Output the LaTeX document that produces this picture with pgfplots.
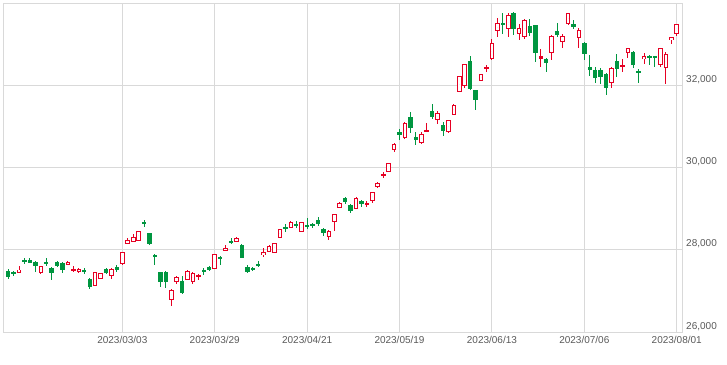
\documentclass[border=0pt]{standalone}
\usepackage{fontspec}
\setmainfont{Liberation Sans}
\usepackage{pgfplots}
\pgfplotsset{compat=1.18}
\usepackage{pgfplotstable}
\definecolor{cred}{RGB}{230,0,35}
\definecolor{cgreen}{RGB}{0,150,64}
\definecolor{gridc}{RGB}{217,217,217}
\definecolor{lblc}{RGB}{89,89,89}
% i = trading-day index (2023/03/03 = 0), o h l c
\pgfplotstableread{
i o h l c
-21 27480 27540 27290 27346
-20 27465 27480 27360 27402
-19 27450 27600 27430 27509
-18 27760 27800 27660 27693
-17 27760 27790 27670 27685
-16 27707 27720 27460 27606
-15 27460 27600 27420 27584
-14 27690 27790 27600 27670
-13 27560 27580 27260 27427
-12 27710 27730 27590 27602
-11 27690 27700 27440 27501
-10 27650 27720 27630 27696
-9 27500 27610 27470 27513
-8 27480 27550 27430 27531
-7 27490 27560 27400 27473
-6 27292 27310 27050 27104
-5 27140 27470 27120 27453
-4 27310 27440 27290 27423
-3 27530 27560 27400 27445
-2 27370 27560 27300 27516
-1 27570 27630 27450 27498
0 27665 27958 27640 27927
1 28160 28290 28140 28237
2 28195 28380 28180 28309
3 28236 28460 28220 28444
4 28660 28734 28560 28623
5 28400 28420 28120 28143
6 27885 27900 27630 27832
7 27463 27470 27100 27222
8 27450 27480 27060 27229
9 26798 27040 26632 27010
10 27227 27360 27180 27333
11 27244 27370 26930 26945
12 27285 27510 27260 27466
13 27227 27470 27180 27419
14 27360 27420 27270 27385
15 27500 27560 27390 27476
16 27585 27600 27480 27518
17 27553 27900 27540 27883
18 27837 27860 27640 27782
19 27993 28110 27980 28041
20 28210 28280 28130 28188
21 28212 28300 28190 28287
22 28122 28130 27800 27813
23 27585 27620 27430 27472
24 27569 27580 27480 27518
25 27650 27720 27585 27633
26 27880 28050 27830 27923
27 27968 28110 27950 28082
28 27944 28170 27930 28156
29 28300 28510 28280 28493
30 28540 28630 28440 28514
31 28553 28700 28520 28658
32 28620 28700 28520 28606
33 28446 28680 28430 28657
34 28590 28773 28500 28564
35 28634 28660 28520 28593
36 28715 28800 28580 28620
37 28505 28520 28330 28416
38 28324 28480 28240 28457
39 28700 28880 28470 28856
40 29042 29160 29020 29123
41 29262 29280 29110 29157
42 29091 29110 28900 28949
43 29017 29280 29000 29242
44 29195 29210 29040 29122
45 29110 29200 29050 29126
46 29195 29400 29140 29388
47 29536 29660 29500 29626
48 29820 29900 29760 29842
49 29902 30120 29890 30093
50 30432 30610 30380 30573
51 30854 30940 30680 30808
52 30724 31100 30690 31086
53 31244 31350 30850 30957
54 30740 30860 30555 30682
55 30610 30860 30580 30801
56 30890 31080 30860 30916
57 31390 31553 31180 31233
58 31178 31370 31065 31328
59 31049 31100 30764 30887
60 30878 31170 30840 31148
61 31285 31560 31270 31524
62 31854 32240 31830 32217
63 32000 32530 31930 32506
64 32592 32708 31890 31913
65 31878 31900 31410 31641
66 32122 32280 32100 32265
67 32410 32500 32330 32434
68 32658 33125 32610 33018
69 33334 33640 33180 33502
70 33520 33770 33260 33485
71 33383 33770 33180 33706
72 33772 33800 33220 33370
73 33260 33505 33100 33389
74 33195 33620 33140 33575
75 33451 33620 33195 33265
76 33463 33470 32575 32781
77 32660 32895 32450 32698
78 32634 32660 32330 32538
79 32797 33220 32610 33193
80 33317 33530 33180 33234
81 33073 33260 32910 33189
82 33505 33770 33480 33753
83 33505 33590 33370 33422
84 33163 33400 32920 33338
85 33041 33060 32610 32773
86 32447 32730 32230 32388
87 32382 32440 32060 32189
88 32382 32420 32040 32203
89 32268 32300 31780 31943
90 32080 32450 31945 32419
91 32585 32765 32200 32391
92 32470 32650 32325 32493
93 32797 32900 32680 32896
94 32805 32830 32420 32490
95 32341 32400 32060 32304
96 32651 32797 32530 32700
97 32707 32750 32488 32682
98 32707 32720 32447 32668
99 32505 32920 32460 32891
100 32431 32820 32040 32759
101 33114 33190 33010 33172
102 33276 33490 33200 33476
}\data
\pgfplotsset{candle/.style={only marks, mark=*, mark size=0pt,
  mark options={draw=none, fill=none}}}
\begin{document}
\begin{tikzpicture}
\useasboundingbox (-3.3pt,-32pt) rectangle (723.7pt,332pt);
\begin{axis}[
  at={(0,0)}, anchor=south west,
  scale only axis, width=679.4pt, height=328.7pt,
  xmin=-21.9, xmax=103.1, ymin=26000, ymax=34000,
  axis line style={draw=gridc, line width=0.9pt},
  grid=major, grid style={draw=gridc, line width=0.9pt},
  major tick length=0pt,
  scaled y ticks=false,
  xtick={0,17,34,51,68,85,102},
  xticklabels={2023/03/03,2023/03/29,2023/04/21,2023/05/19,2023/06/13,2023/07/06,2023/08/01},
  ytick={26000,28000,30000,32000},
  yticklabels={{26,000},{28,000},{30,000},{32,000}},
  yticklabel pos=right,
  tick label style={font=\fontsize{10}{12}\selectfont, text=lblc},
  yticklabel style={anchor=base west, yshift=3pt},
  xticklabel style={yshift=-1pt},
]
% wicks, up days
\addplot[candle,
  restrict expr to domain={\thisrow{c}-\thisrow{o}}{0:100000},
  error bars/.cd, y dir=both, y explicit, error mark=none,
  error bar style={draw=cred, line width=1pt}]
  table[x=i, y expr={(\thisrow{h}+\thisrow{l})/2}, y error expr={(\thisrow{h}-\thisrow{l})/2}] {\data};
% wicks, down days
\addplot[candle,
  restrict expr to domain={\thisrow{c}-\thisrow{o}}{-100000:-0.001},
  error bars/.cd, y dir=both, y explicit, error mark=none,
  error bar style={draw=cgreen, line width=1pt}]
  table[x=i, y expr={(\thisrow{h}+\thisrow{l})/2}, y error expr={(\thisrow{h}-\thisrow{l})/2}] {\data};
% bodies, down days (filled green)
\addplot[candle,
  restrict expr to domain={\thisrow{c}-\thisrow{o}}{-100000:-0.001},
  error bars/.cd, y dir=both, y explicit, error mark=none,
  error bar style={draw=cgreen, line width=4.4pt}]
  table[x=i, y expr={(\thisrow{o}+\thisrow{c})/2}, y error expr={max((\thisrow{o}-\thisrow{c})/2,25)}] {\data};
% bodies, up days (red outline)
\addplot[candle,
  restrict expr to domain={\thisrow{c}-\thisrow{o}}{0:100000},
  error bars/.cd, y dir=both, y explicit, error mark=none,
  error bar style={draw=cred, line width=4.6pt}]
  table[x=i, y expr={(\thisrow{o}+\thisrow{c})/2}, y error expr={max((\thisrow{c}-\thisrow{o})/2+12,25)}] {\data};
% bodies, up days (white inside)
\addplot[candle,
  restrict expr to domain={\thisrow{c}-\thisrow{o}}{40:100000},
  error bars/.cd, y dir=both, y explicit, error mark=none,
  error bar style={draw=white, line width=2.6pt}]
  table[x=i, y expr={(\thisrow{o}+\thisrow{c})/2}, y error expr={(\thisrow{c}-\thisrow{o})/2-12}] {\data};
\end{axis}
\end{tikzpicture}
\end{document}
